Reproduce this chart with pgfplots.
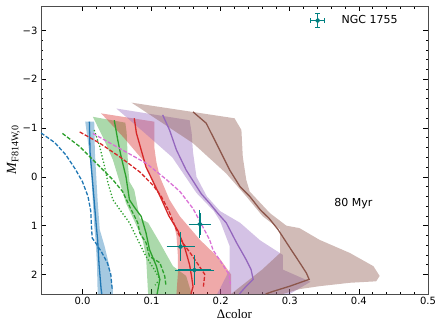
\documentclass[border=0pt]{standalone}
\usepackage{fontspec}
\setmainfont{DejaVu Sans}
\newfontfamily\serif{Liberation Serif}
\usepackage{pgfplots}
\pgfplotsset{compat=1.18}

\definecolor{tabblue}{HTML}{1F77B4}
\definecolor{tabgreen}{HTML}{2CA02C}
\definecolor{tabred}{HTML}{D62728}
\definecolor{tabpurple}{HTML}{9467BD}
\definecolor{tabbrown}{HTML}{8C564B}
\definecolor{orchidm}{HTML}{DA70D6}
\definecolor{teal}{HTML}{008080}

\begin{document}
\begin{tikzpicture}
\begin{axis}[
    name=ax,
    at={(0,0)}, anchor=south west,
    scale only axis,
    width=387pt,
    height=288pt,
    xmin=-0.06, xmax=0.5,
    ymin=-3.5, ymax=2.4,
    y dir=reverse,
    xtick={0,0.1,0.2,0.3,0.4,0.5},
    xticklabels={0.0,0.1,0.2,0.3,0.4,0.5},
    ytick={-3,-2,-1,0,1,2},
    yticklabels={−3,−2,−1,0,1,2},
    minor x tick num=4,
    minor y tick num=4,
    tick align=inside,
    tick pos=both,
    major tick length=5pt,
    minor tick length=2.5pt,
    tick style={black, line width=0.6pt},
    axis line style={line width=0.9pt, black!70},
    ticklabel style={font=\fontsize{10}{12}\selectfont},
    xlabel={\serif\fontsize{13}{15}\selectfont Δcolor},
    ylabel={\serif\fontsize{14}{16}\selectfont\textit{M}\textsubscript{\fontsize{10}{12}\selectfont F814W,0}},
    xlabel style={yshift=2pt},
    ylabel style={yshift=-4pt},
    legend style={draw=none, fill=none, at={(0.935,0.985)}, anchor=north east,
        font=\fontsize{11}{13}\selectfont},
    legend cell align=left,
    every axis plot/.append style={line width=1.3pt},
]

% bands
\addplot[draw=none, fill=tabblue, fill opacity=0.4, forget plot] coordinates {
 (0.004,-1.13) (0.010,-0.5) (0.013,0) (0.015,0.5) (0.017,1.0) (0.019,1.3) (0.021,1.8) (0.022,2.4)
 (0.044,2.4) (0.044,2.3) (0.039,1.83) (0.032,1.42) (0.025,1.08) (0.022,0.5) (0.020,0) (0.018,-0.5) (0.017,-1.13)
} -- cycle;

\addplot[draw=none, fill=tabgreen, fill opacity=0.4, forget plot] coordinates {
 (0.015,-1.23) (0.030,-0.8) (0.044,-0.35) (0.058,0.3) (0.063,0.54) (0.075,0.9) (0.087,1.29) (0.092,1.63) (0.095,2.4)
 (0.158,2.4) (0.150,2.03) (0.131,1.83) (0.112,1.35) (0.095,0.94) (0.083,0.85) (0.075,0.27) (0.068,0.1) (0.066,-0.21) (0.064,-0.9) (0.062,-1.11)
} -- cycle;

\addplot[draw=none, fill=tabred, fill opacity=0.4, forget plot] coordinates {
 (0.027,-1.30) (0.060,-0.8) (0.090,-0.3) (0.104,0.2) (0.120,0.6) (0.131,0.9) (0.136,1.2) (0.138,1.6) (0.138,2.0) (0.136,2.4)
 (0.215,2.4) (0.215,2.0) (0.200,1.7) (0.170,1.29) (0.141,0.81) (0.126,0.47) (0.112,0.0) (0.107,-0.3) (0.104,-0.6) (0.104,-1.13)
} -- cycle;

\addplot[draw=none, fill=tabpurple, fill opacity=0.4, forget plot] coordinates {
 (0.049,-1.40) (0.090,-0.9) (0.130,-0.4) (0.165,0.33) (0.190,0.7) (0.199,0.9) (0.213,1.42) (0.213,1.9) (0.195,2.4)
 (0.300,2.4) (0.330,2.15) (0.290,1.9) (0.290,1.6) (0.257,1.3) (0.228,0.94) (0.199,0.7) (0.180,0.4) (0.165,0.0) (0.160,-0.5) (0.158,-0.9) (0.155,-1.16)
} -- cycle;

\addplot[draw=none, fill=tabbrown, fill opacity=0.4, forget plot] coordinates {
 (0.071,-1.52) (0.160,-0.69) (0.208,-0.07) (0.237,0.4) (0.261,0.81) (0.286,1.08) (0.286,1.56) (0.260,1.9) (0.215,2.4)
 (0.290,2.4) (0.314,2.3) (0.343,2.24) (0.387,2.17) (0.425,2.14) (0.430,2.03) (0.421,1.83) (0.387,1.56) (0.343,1.29) (0.314,1.05) (0.295,1.0) (0.271,0.74) (0.242,0.3) (0.237,0.06) (0.232,-0.41) (0.230,-0.96) (0.220,-1.2)
} -- cycle;

% blue
\addplot[tabblue, forget plot] coordinates {
 (0.010,-1.13) (0.011,-0.5) (0.014,0) (0.017,0.5) (0.020,1.0) (0.022,1.3) (0.024,1.8) (0.027,2.3) (0.028,2.4)
};
\addplot[tabblue, dash pattern=on 4pt off 1.8pt, forget plot] coordinates {
 (-0.060,-0.90) (-0.040,-0.70) (-0.024,-0.45) (-0.010,-0.15) (0.000,0.10) (0.008,0.40) (0.012,0.70) (0.013,1.0) (0.014,1.25) (0.019,1.35) (0.028,1.55) (0.036,1.76) (0.041,2.0) (0.043,2.3)
};

% green
\addplot[tabgreen, forget plot] coordinates {
 (0.046,-1.16) (0.051,-0.76) (0.056,-0.41) (0.063,0.0) (0.068,0.47) (0.075,0.62) (0.085,0.81) (0.092,1.15) (0.097,1.49) (0.107,1.83) (0.112,2.1) (0.108,2.4)
};
\addplot[tabgreen, dash pattern=on 4pt off 1.8pt, forget plot] coordinates {
 (-0.029,-0.89) (-0.004,-0.62) (0.025,-0.21) (0.044,0.06) (0.058,0.30) (0.068,0.60) (0.080,0.94) (0.083,1.15) (0.092,1.35) (0.097,1.63) (0.112,1.76) (0.119,2.03) (0.121,2.24)
};
\addplot[tabgreen, dash pattern=on 1.3pt off 2pt, forget plot] coordinates {
 (0.017,-0.96) (0.025,-0.62) (0.032,-0.21) (0.037,0.13) (0.044,0.47) (0.054,0.67) (0.068,0.94) (0.080,1.29) (0.092,1.63) (0.104,1.90) (0.112,2.10) (0.105,2.22)
};

% red
\addplot[tabred, forget plot] coordinates {
 (0.075,-1.20) (0.078,-0.90) (0.085,-0.55) (0.092,-0.20) (0.104,0.15) (0.114,0.45) (0.125,0.80) (0.138,1.10) (0.148,1.45) (0.155,1.80) (0.158,2.05) (0.160,2.25) (0.157,2.4)
};
\addplot[tabred, dash pattern=on 4pt off 1.8pt, forget plot] coordinates {
 (-0.004,-0.92) (0.025,-0.69) (0.054,-0.41) (0.083,-0.10) (0.102,0.17) (0.114,0.40) (0.125,0.70) (0.135,1.05) (0.145,1.35) (0.158,1.60) (0.170,1.85) (0.177,2.0) (0.175,2.25)
};

% orchid dashed
\addplot[orchidm, dash pattern=on 4pt off 1.8pt, forget plot] coordinates {
 (0.015,-0.89) (0.049,-0.62) (0.092,-0.28) (0.121,0.05) (0.141,0.30) (0.160,0.65) (0.174,1.02) (0.184,1.29) (0.189,1.50) (0.203,1.80) (0.212,2.0) (0.214,2.2)
};

% purple
\addplot[tabpurple, forget plot] coordinates {
 (0.116,-1.27) (0.126,-0.96) (0.136,-0.55) (0.150,-0.14) (0.163,0.15) (0.172,0.35) (0.184,0.54) (0.196,0.75) (0.208,0.94) (0.223,1.35) (0.237,1.70) (0.244,1.90) (0.247,2.10) (0.237,2.24) (0.227,2.4)
};

% brown
\addplot[tabbrown, forget plot] coordinates {
 (0.160,-1.33) (0.179,-1.10) (0.189,-0.82) (0.201,-0.48) (0.213,-0.14) (0.228,0.20) (0.242,0.40) (0.257,0.67) (0.270,0.85) (0.283,1.08) (0.300,1.45) (0.314,1.75) (0.324,1.97) (0.328,2.10) (0.300,2.24) (0.275,2.35) (0.265,2.4)
};

% NGC 1755 data
\addplot[teal, only marks, mark=*, mark size=1.8pt,
    legend image code/.code={
        \draw[teal, line width=1.2pt] (0.25cm,-0.26cm)--(0.25cm,0.26cm) (0cm,0cm)--(0.5cm,0cm);
        \draw[teal, line width=1pt] (0.17cm,-0.26cm)--(0.33cm,-0.26cm) (0.17cm,0.26cm)--(0.33cm,0.26cm)
            (0cm,-0.08cm)--(0cm,0.08cm) (0.5cm,-0.08cm)--(0.5cm,0.08cm);
        \fill[teal] (0.25cm,0cm) circle (1.8pt);
        \path (1.0cm,0cm);
    },
    error bars/.cd, x dir=both, x explicit, y dir=both, y explicit,
    error bar style={line width=1.3pt, teal},
    error mark options={teal, line width=1pt, mark size=3pt}]
coordinates {
 (0.170,0.97) +- (0.012,0.23)
 (0.142,1.43) +- (0.016,0.23)
 (0.162,1.91) +- (0.024,0.24)
};
\addlegendentry{NGC 1755}

\node[font=\fontsize{11}{13}\selectfont] at (axis cs:0.392,0.54) {80 Myr};
\end{axis}
\pgfresetboundingbox
\path[use as bounding box] (-41pt,-37pt) rectangle (402pt,294pt);
\end{tikzpicture}
\end{document}
